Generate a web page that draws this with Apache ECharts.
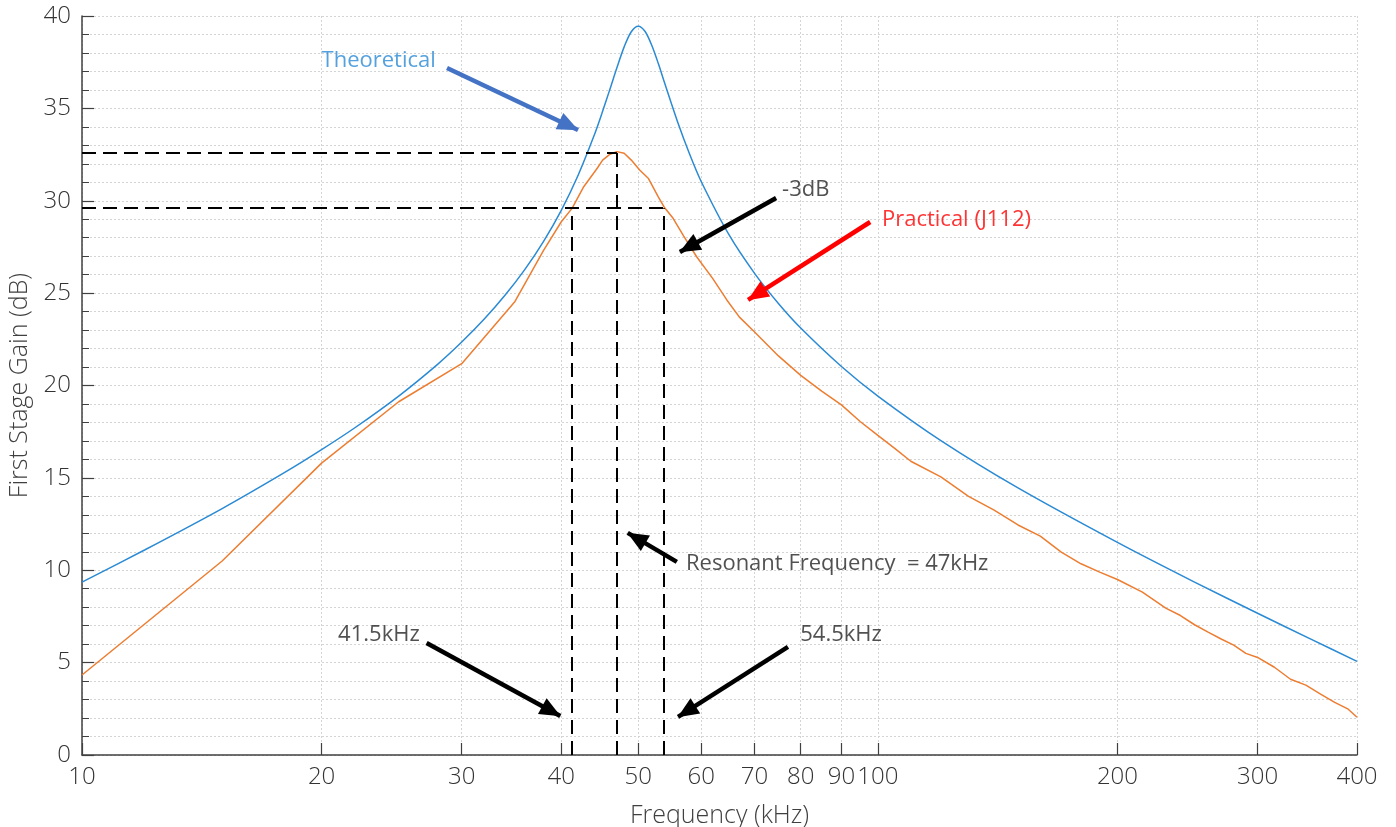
<!DOCTYPE html>
<html>
<head>
<meta charset="utf-8">
<script src="https://cdn.jsdelivr.net/npm/echarts@6/dist/echarts.min.js"></script>
<style>
  html, body { margin: 0; padding: 0; background: #fff; }
  #chart { width: 1396px; height: 827px; }
</style>
</head>
<body>
<div id="chart"></div>
<script>
// frequency ticks (kHz), log axis
var freqTicks = [10, 20, 30, 40, 50, 60, 70, 80, 90, 100, 200, 300, 400]

// theoretical response
var theoFreq = [10, 12, 15, 18, 20, 22, 25, 28, 30, 32, 34, 36, 38, 40, 42, 44, 45, 46, 47, 48, 49, 50,
  51, 52, 53, 54, 56, 58, 60, 65, 70, 75, 80, 90, 100, 120, 150, 200, 250, 300, 350, 400]
var theoGain = [9.36, 11.11, 13.34, 15.31, 16.53, 17.70, 19.43, 21.16, 22.35, 23.58, 24.88, 26.27, 27.79, 29.47,
  31.37, 33.53, 34.72, 35.96, 37.20, 38.33, 39.15, 39.45,
  39.16, 38.40, 37.41, 36.33, 34.29, 32.53, 31.03, 28.16, 26.07, 24.44, 23.11, 21.03, 19.43, 17.02, 14.46,
  11.51, 9.36, 7.67, 6.27, 5.07]

// measured J112 stage (orange curve)
var pracFreq = [10, 15, 20, 25, 30, 35, 38, 40, 41.3, 42.7, 44.4, 45.1, 46, 47, 48, 49, 50.2, 51.5, 53, 53.9,
  55.3, 57, 59.2, 62, 64.6, 67, 70, 75, 80, 85, 90, 95, 100, 105, 110, 120, 130, 140, 150, 160, 170, 180, 190,
  200, 215, 230, 240, 250, 260, 270, 280, 290, 300, 315, 330, 345, 360, 375, 390, 400]
var pracGain = [4.33, 10.5, 15.8, 19.12, 21.18, 24.55, 27.3, 28.85, 29.6, 30.76, 31.76, 32.2, 32.5, 32.66, 32.57,
  32.2, 31.66, 31.2, 30.2, 29.65, 29.05, 28.1, 26.97, 25.8, 24.63, 23.7, 22.9, 21.6, 20.55, 19.7, 18.95, 18.05,
  17.3, 16.6, 15.9, 15.05, 14.0, 13.25, 12.45, 11.85, 10.98, 10.35, 9.9, 9.5, 8.82, 7.95, 7.55, 7.05, 6.65,
  6.28, 5.95, 5.5, 5.28, 4.75, 4.1, 3.78, 3.3, 2.85, 2.48, 2.04]

// -3dB construction lines
var peakGain = 32.6
var halfGain = 29.6
var fLow = 41.3
var fRes = 47
var fHigh = 53.9

var theoData = theoFreq.map(function (f, i) { return [f, theoGain[i]] })
var pracData = pracFreq.map(function (f, i) { return [f, pracGain[i]] })

var FONT = '"Open Sans", "Segoe UI", sans-serif'
var GRID_LINE = { color: '#d4d4d4', type: [2, 2], width: 1 }

// annotation arrows: [from, to, colour]
var arrows = [
  [[28.75, 37.19], [42.0, 33.83], '#4472c4'],
  [[74.5, 30.15], [56.4, 27.23], '#000000'],
  [[97.8, 28.85], [68.7, 24.63], '#ff0000'],
  [[55.9, 10.45], [48.5, 12.02], '#000000'],
  [[27.1, 6.06], [39.9, 2.11], '#000000'],
  [[77.1, 5.85], [56.1, 2.06], '#000000']
]
var notes = [
  [20.0, 37.56, 'Theoretical', '#2a8ad4'],
  [75.8, 30.58, '-3dB', '#262626'],
  [101.2, 28.96, 'Practical (J112)', '#ff0000'],
  [57.4, 10.34, 'Resonant Frequency  = 47kHz', '#262626'],
  [20.98, 6.5, '41.5kHz', '#262626'],
  [79.9, 6.5, '54.5kHz', '#262626']
]

var chart = echarts.init(document.getElementById('chart'))

chart.setOption({
  animation: false,
  backgroundColor: '#ffffff',
  textStyle: { fontFamily: FONT },
  grid: { left: 82, right: 39, top: 16, bottom: 72, containLabel: false, outerBoundsMode: 'none' },
  xAxis: {
    type: 'log',
    logBase: 10,
    min: 10,
    max: 400,
    name: 'Frequency (kHz)',
    nameLocation: 'middle',
    nameGap: 48,
    nameTextStyle: { fontSize: 25, color: '#404040', fontFamily: FONT, fontWeight: 300 },
    axisLine: { lineStyle: { color: '#404040', width: 1.5 } },
    axisTick: { show: true, inside: true, length: 12, customValues: freqTicks, lineStyle: { color: '#404040', width: 1.2 } },
    axisLabel: {
      customValues: freqTicks,
      fontSize: 24, color: '#333333', margin: 10, fontFamily: FONT, fontWeight: 300,
      formatter: function (v) { return String(Math.round(v)) }
    },
    splitLine: { show: true, lineStyle: GRID_LINE },
    minorTick: { show: false },
    minorSplitLine: { show: false }
  },
  yAxis: {
    type: 'value',
    min: 0,
    max: 40,
    interval: 5,
    name: 'First Stage Gain (dB)',
    nameLocation: 'middle',
    nameGap: 40,
    nameRotate: 90,
    nameTextStyle: { fontSize: 25, color: '#404040', fontFamily: FONT, fontWeight: 300 },
    axisLine: { show: true, lineStyle: { color: '#404040', width: 1.5 } },
    axisTick: { show: true, inside: true, length: 12, lineStyle: { color: '#404040', width: 1.2 } },
    minorTick: { show: true, splitNumber: 5, length: 7, lineStyle: { color: '#404040', width: 1 } },
    axisLabel: { fontSize: 24, color: '#333333', margin: 11, fontFamily: FONT, fontWeight: 300 },
    splitLine: { show: true, lineStyle: GRID_LINE },
    minorSplitLine: { show: true, lineStyle: GRID_LINE }
  },
  series: [
    {
      name: 'Theoretical',
      type: 'line',
      data: theoData,
      smooth: 0.3,
      showSymbol: false,
      lineStyle: { color: '#2a8ad4', width: 1.5 },
      itemStyle: { color: '#2a8ad4' },
      z: 3
    },
    {
      name: 'Practical (J112)',
      type: 'line',
      data: pracData,
      smooth: false,
      showSymbol: false,
      lineStyle: { color: '#ed7d31', width: 1.5 },
      itemStyle: { color: '#ed7d31' },
      z: 3
    },
    {
      // dashed -3dB construction lines
      type: 'line',
      data: [],
      z: 4,
      markLine: {
        silent: true,
        symbol: ['none', 'none'],
        label: { show: false },
        lineStyle: { color: '#000', width: 2, type: [14, 7] },
        data: [
          [{ coord: [10, peakGain] }, { coord: [fRes, peakGain] }],
          [{ coord: [10, halfGain] }, { coord: [fHigh, halfGain] }],
          [{ coord: [fRes, 0] }, { coord: [fRes, peakGain] }],
          [{ coord: [fLow, 0] }, { coord: [fLow, halfGain] }],
          [{ coord: [fHigh, 0] }, { coord: [fHigh, halfGain] }]
        ]
      }
    },
    {
      // annotation arrows
      type: 'line',
      data: [],
      z: 5,
      markLine: {
        silent: true,
        symbol: ['none', 'triangle'],
        symbolSize: [18, 21],
        symbolOffset: [[0, 0], [0, 10]],
        label: { show: false },
        data: arrows.map(function (a) {
          return [
            { coord: a[0], lineStyle: { color: a[2], width: 4.5, type: 'solid' }, itemStyle: { color: a[2] } },
            { coord: a[1], itemStyle: { color: a[2] } }
          ]
        })
      }
    },
    {
      // annotation text
      type: 'scatter',
      symbolSize: 0,
      silent: true,
      z: 6,
      data: notes.map(function (n) {
        return {
          value: [n[0], n[1]],
          label: {
            show: true,
            position: 'right',
            distance: 0,
            formatter: n[2],
            color: n[3],
            fontSize: 22,
            fontFamily: FONT,
            fontWeight: 'normal'
          }
        }
      })
    }
  ]
})
</script>
</body>
</html>
